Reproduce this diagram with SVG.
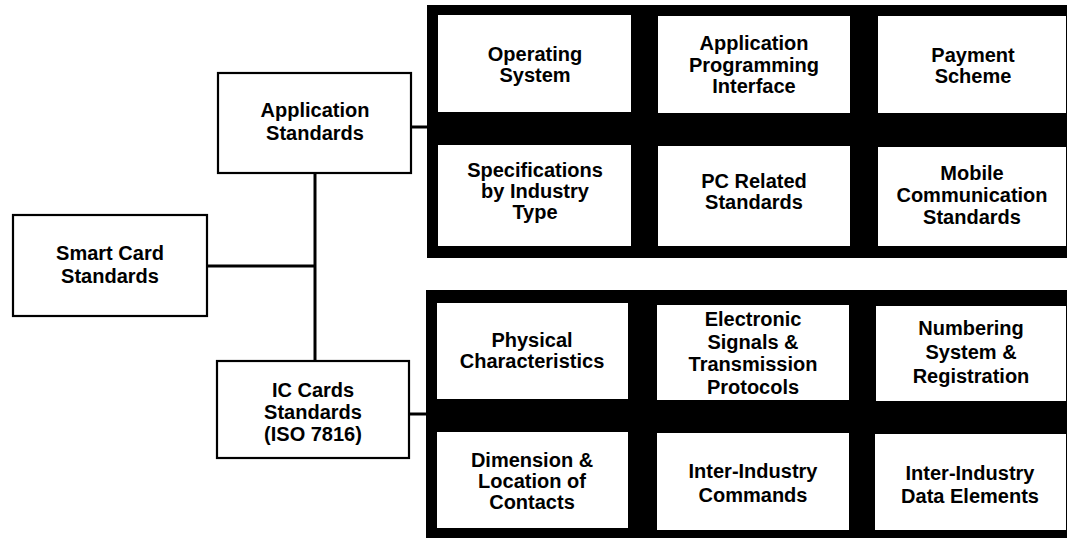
<svg xmlns="http://www.w3.org/2000/svg" width="1067" height="538" viewBox="0 0 1067 538">
  <style>
    .box { fill: #ffffff; stroke: #000000; stroke-width: 2.2; }
    .panel { fill: #000000; }
    .cell { fill: #ffffff; }
    .link { stroke: #000000; stroke-width: 3; fill: none; }
    text { font-family: "Liberation Sans", Arial, sans-serif; font-weight: bold; font-size: 20px; fill: #000000; text-anchor: middle; }
  </style>
  <rect width="1067" height="538" fill="#ffffff"/>

  <!-- connectors -->
  <g id="connectors">
    <line class="link" x1="207" y1="266" x2="315" y2="266"/>
    <line class="link" x1="315" y1="173" x2="315" y2="361"/>
    <line class="link" x1="411" y1="127" x2="428" y2="127"/>
    <line class="link" x1="409" y1="414" x2="427" y2="414"/>
  </g>

  <!-- root -->
  <g id="smart-card-standards">
    <rect class="box" x="13" y="215" width="194" height="101"/>
    <text x="110"><tspan x="110" y="260">Smart Card</tspan><tspan x="110" y="283">Standards</tspan></text>
  </g>

  <g id="application-standards">
    <rect class="box" x="218" y="73" width="193" height="100"/>
    <text x="315"><tspan x="315" y="117">Application</tspan><tspan x="315" y="140">Standards</tspan></text>
  </g>

  <g id="ic-cards-standards">
    <rect class="box" x="217" y="361" width="192" height="97"/>
    <text x="313"><tspan x="313" y="397">IC Cards</tspan><tspan x="313" y="419">Standards</tspan><tspan x="313" y="441">(ISO 7816)</tspan></text>
  </g>

  <!-- application standards panel -->
  <g id="application-panel">
    <rect class="panel" x="427" y="5" width="640" height="253"/>
  </g>
  <g id="operating-system">
    <rect class="cell" x="438" y="15" width="193" height="97"/>
    <text><tspan x="535" y="61">Operating</tspan><tspan x="535" y="82">System</tspan></text>
  </g>
  <g id="api">
    <rect class="cell" x="658" y="16" width="192" height="97"/>
    <text><tspan x="754" y="50">Application</tspan><tspan x="754" y="71.5">Programming</tspan><tspan x="754" y="93">Interface</tspan></text>
  </g>
  <g id="payment-scheme">
    <rect class="cell" x="878" y="16" width="188" height="97"/>
    <text><tspan x="973" y="62">Payment</tspan><tspan x="973" y="83">Scheme</tspan></text>
  </g>
  <g id="industry-specifications">
    <rect class="cell" x="438" y="145" width="193" height="101"/>
    <text><tspan x="535" y="177">Specifications</tspan><tspan x="535" y="198">by Industry</tspan><tspan x="535" y="219">Type</tspan></text>
  </g>
  <g id="pc-related">
    <rect class="cell" x="658" y="146" width="192" height="100"/>
    <text><tspan x="754" y="188">PC Related</tspan><tspan x="754" y="209">Standards</tspan></text>
  </g>
  <g id="mobile-communication">
    <rect class="cell" x="878" y="147" width="188" height="99"/>
    <text><tspan x="972" y="180">Mobile</tspan><tspan x="972" y="202">Communication</tspan><tspan x="972" y="224">Standards</tspan></text>
  </g>

  <!-- IC card standards panel -->
  <g id="ic-panel">
    <rect class="panel" x="426" y="290" width="641" height="248"/>
  </g>
  <g id="physical-characteristics">
    <rect class="cell" x="437" y="303" width="191" height="96"/>
    <text><tspan x="532" y="347">Physical</tspan><tspan x="532" y="368">Characteristics</tspan></text>
  </g>
  <g id="electronic-signals">
    <rect class="cell" x="657" y="305" width="192" height="95"/>
    <text><tspan x="753" y="326">Electronic</tspan><tspan x="753" y="348.5">Signals &amp;</tspan><tspan x="753" y="371">Transmission</tspan><tspan x="753" y="393.5">Protocols</tspan></text>
  </g>
  <g id="numbering-system">
    <rect class="cell" x="876" y="306" width="190" height="95"/>
    <text><tspan x="971" y="335">Numbering</tspan><tspan x="971" y="359">System &amp;</tspan><tspan x="971" y="383">Registration</tspan></text>
  </g>
  <g id="dimension-location">
    <rect class="cell" x="437" y="432" width="191" height="96"/>
    <text><tspan x="532" y="467">Dimension &amp;</tspan><tspan x="532" y="488">Location of</tspan><tspan x="532" y="509">Contacts</tspan></text>
  </g>
  <g id="inter-industry-commands">
    <rect class="cell" x="657" y="433" width="192" height="97"/>
    <text><tspan x="753" y="478">Inter-Industry</tspan><tspan x="753" y="502">Commands</tspan></text>
  </g>
  <g id="inter-industry-data">
    <rect class="cell" x="875" y="434" width="191" height="96"/>
    <text><tspan x="970" y="480">Inter-Industry</tspan><tspan x="970" y="503">Data Elements</tspan></text>
  </g>
</svg>
